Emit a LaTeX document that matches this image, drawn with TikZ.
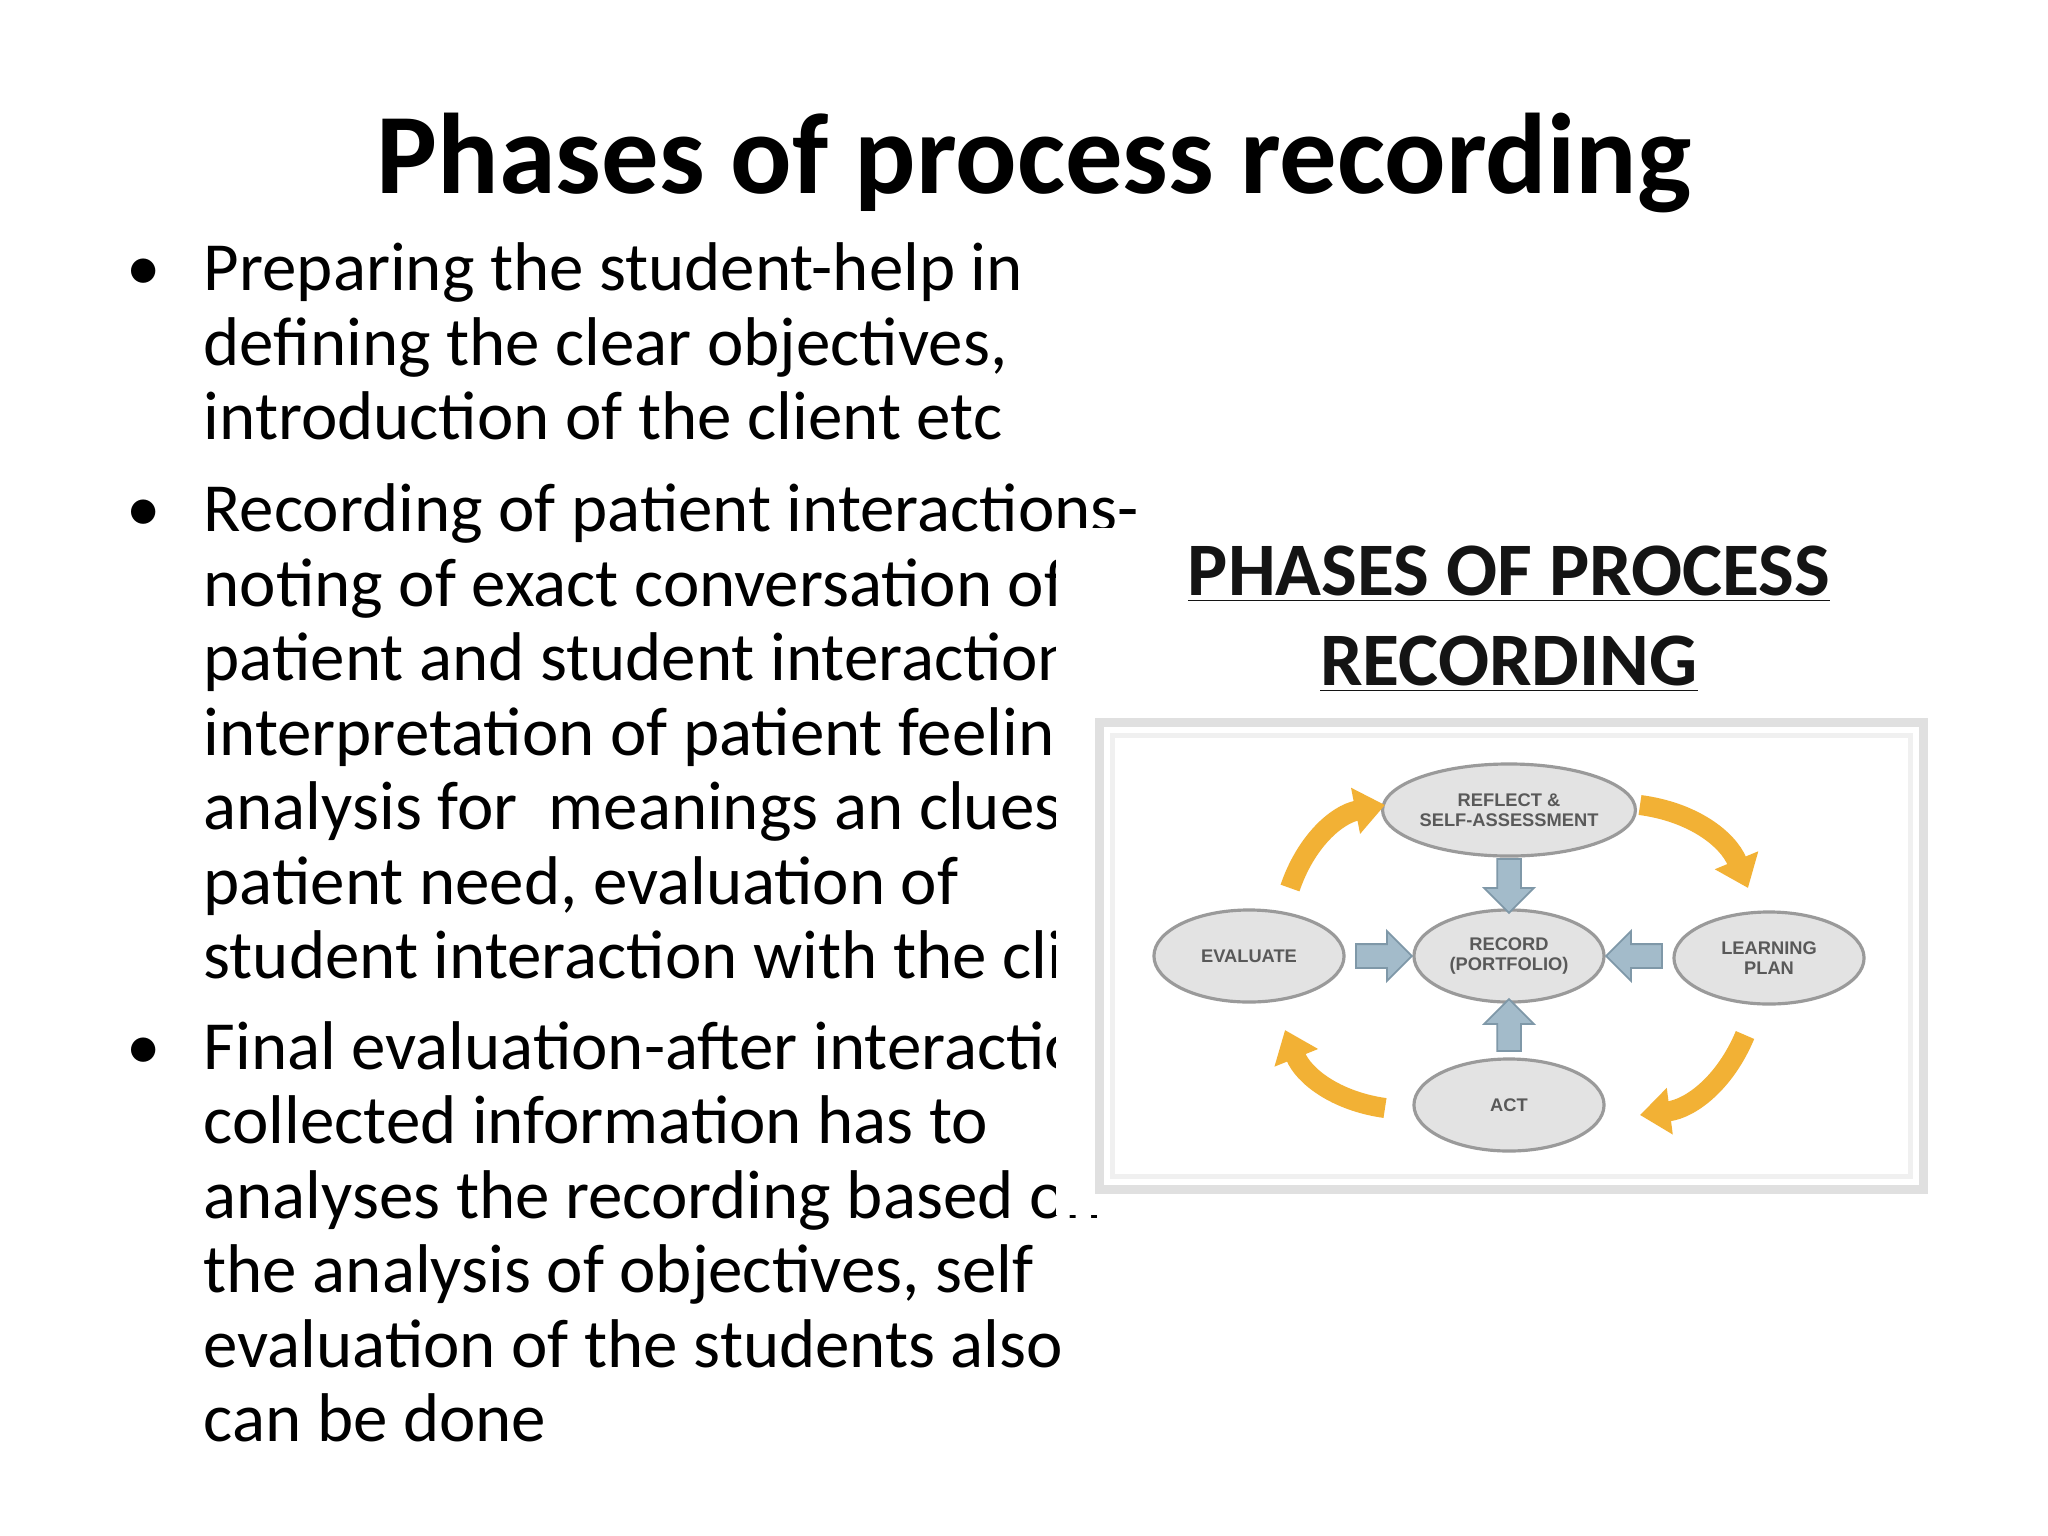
\documentclass[tikz,border=0pt]{standalone}
\usepackage{fontspec}
\setmainfont{Carlito}
\newfontfamily\lsans{Liberation Sans}
\usetikzlibrary{shapes.geometric,arrows.meta,shapes.arrows}
\definecolor{ell}{HTML}{E3E3E3}
\definecolor{elb}{HTML}{9A9A9A}
\definecolor{blu}{HTML}{A3BBCA}
\definecolor{blb}{HTML}{7F98A8}
\definecolor{org}{HTML}{F2B135}
\tikzset{
 line/.style={anchor=base west,inner sep=0,font=\fontsize{19.6}{24}\selectfont},
 blt/.style={anchor=base west,inner sep=0,font=\fontsize{19.6}{24}\selectfont},
 ov/.style={ellipse,draw=elb,fill=ell,line width=0.9pt,minimum width=1.9cm,minimum height=0.92cm,inner sep=0,align=center,text=black!65,font=\lsans\bfseries\fontsize{5.2}{5.6}\selectfont},
 blk/.style={single arrow,draw=blb,fill=blu,line width=0.5pt,inner xsep=0,inner ysep=0.11cm,single arrow head extend=0.13cm,single arrow head indent=0cm},
 oarr/.style={draw=org,line width=0.2cm,-{Triangle[length=0.3cm,width=0.45cm]},bend left=30}
}
\begin{document}
\begin{tikzpicture}[x=0.01cm,y=-0.01cm]
\useasboundingbox (0,0) rectangle (2048,1536);
\fill[white] (0,0) rectangle (2048,1536);
\node[inner sep=0,font=\bfseries\fontsize{32.6}{38}\selectfont] (title) at (1034,163) {Phases of process recording};
% bullets
\node[blt] (b1) at (126,290) {\textbullet};
\node[blt] (b2) at (126,531) {\textbullet};
\node[blt] (b3) at (126,1069) {\textbullet};
\node[line] (l1) at (203,290) {Preparing the student-help in};
\node[line] (l2) at (203,365) {defining the clear objectives,};
\node[line] (l3) at (203,439) {introduction of the client etc};
\node[line] (l4) at (203,531) {Recording of patient interactions-};
\node[line] (l5) at (203,606) {noting of exact conversation of};
\node[line] (l6) at (203,680) {patient and student interaction,};
\node[line] (l7) at (203,755) {interpretation of patient feelings,};
\node[line] (l8) at (203,829) {analysis for\ \ meanings an clues of};
\node[line] (l9) at (203,904) {patient need, evaluation of};
\node[line] (l10) at (203,978) {student interaction with the client};
\node[line] (l11) at (203,1069) {Final evaluation-after interaction};
\node[line] (l12) at (203,1143) {collected information has to};
\node[line] (l13) at (203,1218) {analyses the recording based on};
\node[line] (l14) at (203,1292) {the analysis of objectives, self};
\node[line] (l15) at (203,1367) {evaluation of the students also};
\node[line] (l16) at (203,1441) {can be done};
% image cover
\fill[white] (1056,528) rectangle (1960,1215);
\node[inner sep=0,font=\bfseries\fontsize{21.5}{24}\selectfont,text=black!92] (h1) at (1509,574) {\underline{PHASES OF PROCESS}};
\node[inner sep=0,font=\bfseries\fontsize{21.5}{24}\selectfont,text=black!92] (h2) at (1509,664) {\underline{RECORDING}};
\draw[draw=black!12,line width=0.09cm,fill=white] (1099,722) rectangle (1923,1189);
\draw[draw=black!6,line width=0.05cm] (1112,735) rectangle (1910,1176);
% ovals
\node[ov] (refl) at (1509,810) {REFLECT \&\\SELF-ASSESSMENT};
\node[ov] (rec) at (1509,956) {RECORD\\(PORTFOLIO)};
\node[ov] (eval) at (1249,956) {EVALUATE};
\node[ov] (learn) at (1769,958) {LEARNING\\PLAN};
\node[ov] (act) at (1509,1105) {ACT};
% block arrows
\node[blk,minimum height=0.54cm,rotate=-90] (a1) at (1509,880) {};
\node[blk,minimum height=0.56cm] (a2) at (1378,956) {};
\node[blk,minimum height=0.56cm,rotate=180] (a3) at (1640,956) {};
\node[blk,minimum height=0.52cm,rotate=90] (a4) at (1509,1031) {};
% orange arrows
\coordinate (o1s) at (1290,888); \coordinate (o1e) at (1385,805);
\coordinate (o2s) at (1640,805); \coordinate (o2e) at (1748,888);
\coordinate (o3s) at (1745,1035); \coordinate (o3e) at (1640,1115);
\coordinate (o4s) at (1385,1108); \coordinate (o4e) at (1285,1030);
\draw[oarr] (o1s) to (o1e);
\draw[oarr] (o2s) to (o2e);
\draw[oarr] (o3s) to (o3e);
\draw[oarr] (o4s) to (o4e);
\end{tikzpicture}
\end{document}
